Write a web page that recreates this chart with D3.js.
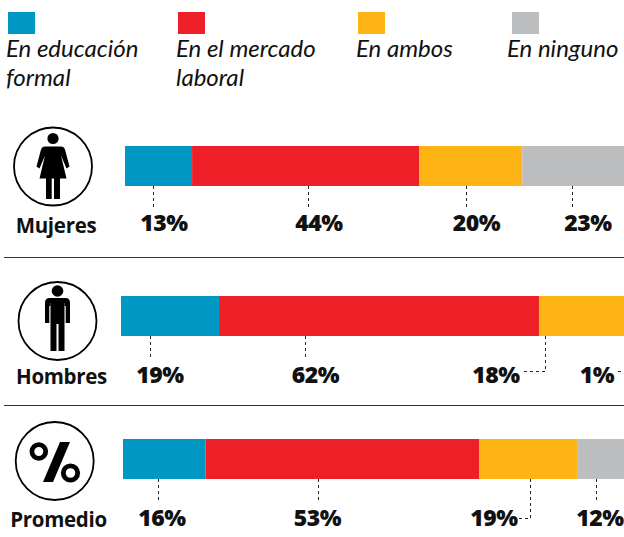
<!DOCTYPE html>
<html>
<head>
<meta charset="utf-8">
<script src="https://cdn.jsdelivr.net/npm/d3@7"></script>
<style>
  html, body { margin: 0; padding: 0; background: #fff; }
  text { fill: #111; }
  .legend text { font: italic 400 24px Lato, sans-serif; }
  .pct { font: 800 23px "Open Sans", sans-serif; letter-spacing: -0.4px; }
  .name { font: 700 20.5px "Open Sans", sans-serif; letter-spacing: -0.3px; }
</style>
</head>
<body>
<div id="chart"></div>
<script>
// DATA
const categories = ['En educación formal', 'En el mercado laboral', 'En ambos', 'En ninguno']
const groups = ['Mujeres', 'Hombres', 'Promedio']
const mujeres = [13, 44, 20, 23]
const hombres = [19, 62, 18, 1]
const promedio = [16, 53, 19, 12]
const colors = ['#0098c3', '#ee1f26', '#feb415', '#bcbdbf']

// LAYOUT, ONE ENTRY PER ROW
const rows = [
  {name: groups[0], values: mujeres, x0: 125, top: 146, cx: 53, cy: 166.5, nameX: 56, nameY: 233, icon: 'woman',
   labelX: [164, 319, 476.5, 588], baseY: 231,
   leaders: [[[153.5, 186], [153.5, 209]], [[308.5, 186], [308.5, 209]], [[466.5, 186], [466.5, 209]], [[572.5, 186], [572.5, 209]]]},
  {name: groups[1], values: hombres, x0: 121, top: 296, cx: 57.5, cy: 321, nameX: 61.5, nameY: 384, icon: 'man',
   labelX: [160, 315.5, 496, 597], baseY: 383,
   leaders: [[[150.5, 336], [150.5, 358]], [[305.5, 336], [305.5, 358]], [[545.5, 336], [545.5, 371.5], [522, 371.5]], [[618, 371.5], [624, 371.5]]]},
  {name: groups[2], values: promedio, x0: 123, top: 439, cx: 54.7, cy: 461, nameX: 58.5, nameY: 527, icon: 'pct',
   labelX: [162, 317.5, 494, 600], baseY: 526,
   leaders: [[[158.5, 479], [158.5, 503]], [[318.5, 479], [318.5, 503]], [[530.5, 479], [530.5, 518.5], [518, 518.5]], [[596.5, 479], [596.5, 502]]]}
]
const legendX = [8, 178, 358, 512]
const legendTextX = [6, 176, 356, 507]
const legendLines = [['En educación', 'formal'], ['En el mercado', 'laboral'], ['En ambos'], ['En ninguno']]
const ruleY = [257.5, 405.5]

// CREATE SVG CONTAINER
const width = 624, height = 537, barH = 40
const svg = d3.select('#chart').append('svg')
              .attr('width', width)
              .attr('height', height)
              .style('display', 'block')

// LEGEND
const legend = svg.selectAll('g.legend').data(categories).enter()
                  .append('g')
                  .attr('class', 'legend')

legend.append('rect')
      .attr('x', (d, i) => legendX[i])
      .attr('y', 12).attr('width', 27).attr('height', 22)
      .attr('fill', (d, i) => colors[i])

legend.each(function(d, i) {
    d3.select(this).selectAll('text').data(legendLines[i]).enter()
      .append('text')
      .attr('x', legendTextX[i])
      .attr('y', (t, j) => 57 + j * 29)
      .text(t => t)
})

// RULES
svg.selectAll('line.rule').data(ruleY).enter()
   .append('line')
   .attr('x1', 4).attr('x2', width)
   .attr('y1', d => d).attr('y2', d => d)
   .attr('stroke', '#333').attr('stroke-width', 1)

// ICONS, DRAWN AROUND THE CIRCLE CENTRE
const icons = {
    woman: g => {
        g.append('circle').attr('cy', -28).attr('r', 5.6)
        g.append('path').attr('d', 'M-8,-20 L8,-20 Q11,-20 12,-17 L16.5,0 L13.5,2 L8,-11 L13.5,12 L-13.5,12 L-8,-11 L-13.5,2 L-16.5,0 L-12,-17 Q-11,-20 -8,-20 Z')
        g.append('path').attr('d', 'M-7,11 L-1.3,11 L-1.3,32.5 L-7,32.5 Z M1,11 L7,11 L7,32.5 L1,32.5 Z')
    },
    man: g => {
        g.append('circle').attr('cy', -30).attr('r', 5.8)
        // TORSO AND LEGS
        g.append('path').attr('d', 'M-7,-23 L7,-23 L7,30 L1,30 L1,3 L-1,3 L-1,30 L-7,30 Z')
        // SHOULDERS AND ARMS
        g.append('path').attr('d', 'M-8,-23 L8,-23 Q12.5,-23 12.5,-18 L12.5,2 L8.2,2 L8.2,-15 L7,-15 L7,-18 L-7,-18 L-7,-15 L-8.2,-15 L-8.2,2 L-12.5,2 L-12.5,-18 Q-12.5,-23 -8,-23 Z')
    },
    pct: g => {
        g.append('circle').attr('cx', -15.9).attr('cy', -9.5).attr('r', 6.9).attr('fill', 'none').attr('stroke', '#000').attr('stroke-width', 4.8)
        g.append('circle').attr('cx', 15.8).attr('cy', 12).attr('r', 7.2).attr('fill', 'none').attr('stroke', '#000').attr('stroke-width', 4.8)
        g.append('path').attr('d', 'M5.3,-19 L15.3,-19 L-1.7,21 L-11.7,21 Z')
    }
}

// ROWS
const line = d3.line()
rows.forEach(row => {
    // 100% IS 516 PX WIDE, THE LAST SEGMENT RUNS OFF THE PAGE
    const x = d3.scaleLinear().domain([0, 100]).range([row.x0, row.x0 + 516])
    const stack = d3.cumsum(row.values)

    svg.selectAll(null).data(row.values).enter()
       .append('rect')
       .attr('x', (d, i) => x(stack[i] - d))
       .attr('y', row.top)
       .attr('width', d => x(d) - x(0))
       .attr('height', barH)
       .attr('fill', (d, i) => colors[i])

    svg.selectAll(null).data(row.leaders).enter()
       .append('path')
       .attr('d', d => line(d))
       .attr('fill', 'none')
       .attr('stroke', '#222')
       .attr('stroke-width', 1)
       .attr('stroke-dasharray', '3 3')

    svg.selectAll(null).data(row.values).enter()
       .append('text')
       .attr('class', 'pct')
       .attr('x', (d, i) => row.labelX[i])
       .attr('y', row.baseY)
       .attr('text-anchor', 'middle')
       .text(d => d + '%')

    const icon = svg.append('g').attr('transform', `translate(${row.cx},${row.cy})`)
    icon.append('circle').attr('r', 39).attr('fill', 'none').attr('stroke', '#000').attr('stroke-width', 1.8)
    icons[row.icon](icon)

    svg.append('text')
       .attr('class', 'name')
       .attr('x', row.nameX)
       .attr('y', row.nameY)
       .attr('text-anchor', 'middle')
       .text(row.name)
})
</script>
</body>
</html>
